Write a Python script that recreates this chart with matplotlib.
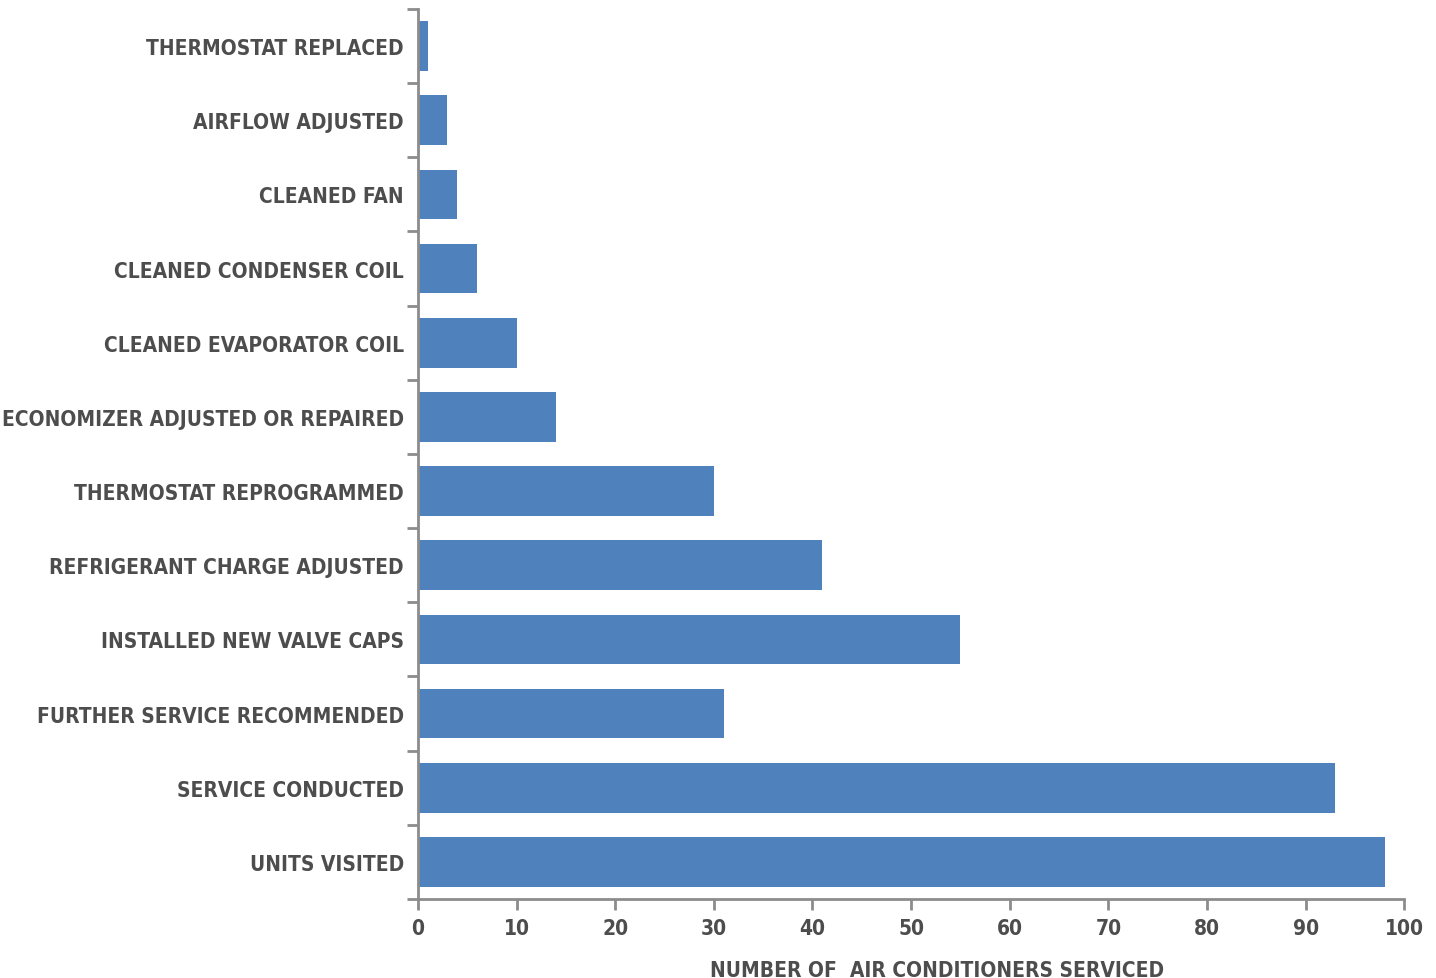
import numpy as np
import matplotlib.pyplot as plt
from matplotlib.ticker import FixedLocator

# Service actions, listed bottom to top
actions = [
    "UNITS VISITED",
    "SERVICE CONDUCTED",
    "FURTHER SERVICE RECOMMENDED",
    "INSTALLED NEW VALVE CAPS",
    "REFRIGERANT CHARGE ADJUSTED",
    "THERMOSTAT REPROGRAMMED",
    "ECONOMIZER ADJUSTED OR REPAIRED",
    "CLEANED EVAPORATOR COIL",
    "CLEANED CONDENSER COIL",
    "CLEANED FAN",
    "AIRFLOW ADJUSTED",
    "THERMOSTAT REPLACED",
]
units = [98, 93, 31, 55, 41, 30, 14, 10, 6, 4, 3, 1]
x_ticks = [0, 10, 20, 30, 40, 50, 60, 70, 80, 90, 100]

# condensed bold face for all text
plt.rcParams['font.family'] = ['DejaVu Sans']
plt.rcParams['font.stretch'] = 'condensed'
plt.rcParams['font.weight'] = 'bold'

text_color = '#4d4d4d'
axis_color = '#8c8c8c'
bar_color = '#4f81bd'

fig = plt.figure(figsize=(14.36, 9.79), dpi=100)
ax = fig.add_axes([0.291, 0.0807, 0.687, 0.9091])

y = np.arange(len(actions))
ax.barh(y, units, height=0.67, color=bar_color, zorder=2)

ax.set_xlim(0, 100)
ax.set_ylim(-0.5, len(actions) - 0.5)

ax.set_xticks(x_ticks)
ax.set_xticklabels([str(t) for t in x_ticks], fontsize=15, color=text_color)
ax.set_yticks(y)
ax.set_yticklabels(actions, fontsize=15, color=text_color)
ax.tick_params(axis='y', length=0, pad=10)
# category separators as outward minor ticks
ax.yaxis.set_minor_locator(FixedLocator(np.arange(-0.5, len(actions), 1.0)))
ax.tick_params(axis='y', which='minor', length=8, width=2, color=axis_color)
ax.tick_params(axis='x', length=8, width=2, color=axis_color, pad=6)

for side in ['top', 'right']:
    ax.spines[side].set_visible(False)
for side in ['left', 'bottom']:
    ax.spines[side].set_color(axis_color)
    ax.spines[side].set_linewidth(2)

ax.set_xlabel("NUMBER OF  AIR CONDITIONERS SERVICED", fontsize=15,
              fontweight='bold', color=text_color)
ax.xaxis.set_label_coords(0.526, -0.068)

fig.savefig("out.png", dpi=100)
